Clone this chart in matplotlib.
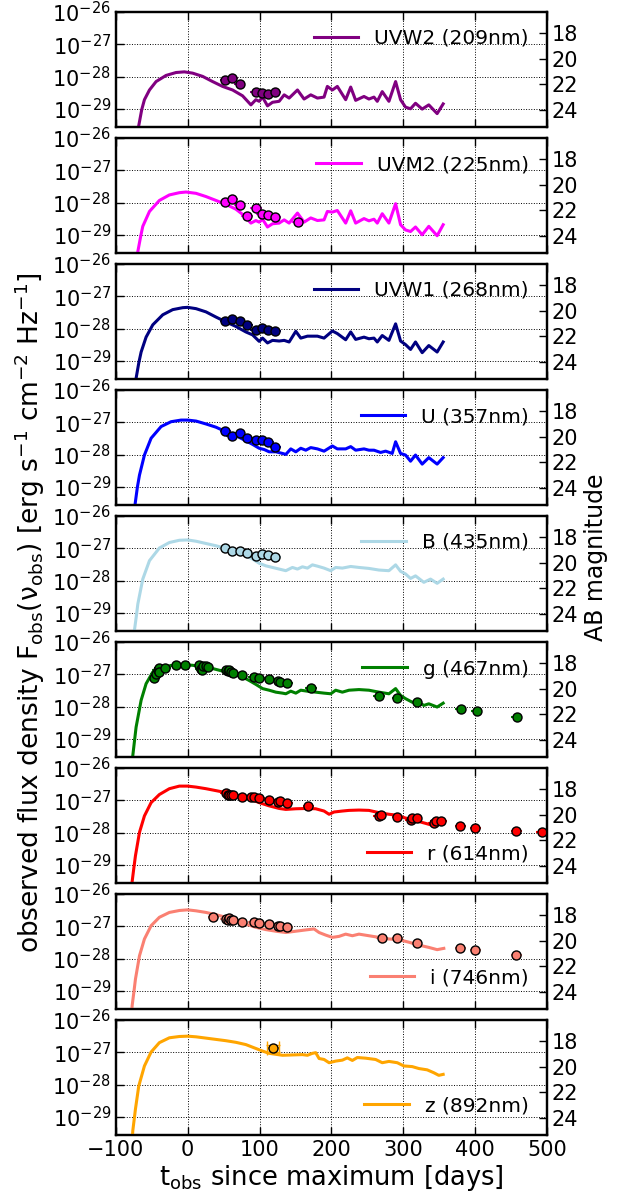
import numpy as np
import matplotlib
matplotlib.use("Agg")
import matplotlib.pyplot as plt
from matplotlib.ticker import FixedLocator, NullLocator

# ---------------- model light curves (log10 flux density, erg/s/cm^2/Hz) ----------------
uvw2_t = [-72, -68.1, -64.0, -60.2, -53.2, -44.0, -30.1, -16.2, -4.6, 6.9, 20.8, 34.7, 48.6, 62.5,
          76.4, 88.0, 94.9, 99.5, 104.2, 111.1, 118.1, 127.3, 134.3, 141.2, 152.8, 162.0, 171.3,
          180.6, 189.8, 194.4, 201.4, 208.3, 219.9, 226.9, 233.8, 245.4, 252.3, 259.3, 263.9,
          270.8, 280.1, 289.4, 296.3, 303.2, 310.2, 317.1, 326.4, 335.6, 347.2, 355.6]
uvw2_logf = [-30.0, -29.51, -29.02, -28.71, -28.41, -28.15, -27.96, -27.87, -27.85, -27.89, -27.99,
             -28.15, -28.30, -28.41, -28.59, -28.87, -28.71, -28.76, -28.63, -28.90, -28.79, -28.76,
             -28.56, -28.66, -28.41, -28.69, -28.56, -28.66, -28.63, -28.30, -28.41, -28.30, -28.71,
             -28.32, -28.73, -28.61, -28.69, -28.63, -28.76, -28.46, -28.76, -28.15, -28.71, -28.94,
             -28.99, -28.82, -29.00, -28.87, -29.14, -28.84]

uvm2_t = [-72, -69.4, -65.5, -62.5, -53.2, -39.4, -25.5, -11.6, -2.3, 11.6, 25.5, 39.4, 53.2, 67.1,
          78.7, 88.0, 94.9, 99.5, 104.2, 111.1, 118.1, 127.3, 134.3, 141.2, 152.8, 162.0, 171.3,
          180.6, 189.8, 194.4, 201.4, 208.3, 219.9, 226.9, 233.8, 245.4, 252.3, 259.3, 263.9,
          270.8, 280.1, 289.4, 296.3, 303.2, 310.2, 317.1, 326.4, 335.6, 347.2, 355.6]
uvm2_logf = [-30.0, -29.51, -29.05, -28.73, -28.27, -27.93, -27.76, -27.69, -27.67, -27.71, -27.81,
             -27.93, -28.05, -28.20, -28.40, -28.63, -28.55, -28.60, -28.51, -28.75, -28.65, -28.63,
             -28.53, -28.63, -28.32, -28.60, -28.47, -28.55, -28.53, -28.27, -28.29, -28.24, -28.63,
             -28.25, -28.63, -28.49, -28.56, -28.51, -28.63, -28.34, -28.63, -28.03, -28.68, -28.84,
             -28.89, -28.75, -28.99, -28.73, -29.02, -28.68]

uvw1_t = [-74, -71.8, -68.0, -64.8, -57.9, -48.6, -34.7, -20.8, -6.9, 0, 11.6, 25.5, 39.4, 53.2,
          67.1, 81.0, 90.3, 99.5, 104.2, 111.1, 118.1, 127.3, 134.3, 141.2, 150.5, 157.4, 166.7,
          180.6, 189.8, 201.4, 208.3, 219.9, 226.9, 233.8, 245.4, 252.3, 259.3, 263.9, 270.8,
          280.1, 289.4, 296.3, 303.2, 310.2, 317.1, 326.4, 335.6, 347.2, 355.6]
uvw1_logf = [-30.0, -29.53, -29.05, -28.72, -28.26, -27.88, -27.57, -27.41, -27.35, -27.34, -27.38,
             -27.48, -27.64, -27.79, -27.93, -28.10, -28.19, -28.39, -28.29, -28.44, -28.36, -28.38,
             -28.36, -28.41, -28.08, -28.29, -28.23, -28.23, -28.29, -28.07, -28.15, -28.34, -28.10,
             -28.33, -28.26, -28.31, -28.29, -28.41, -28.21, -28.36, -27.85, -28.38, -28.49, -28.64,
             -28.41, -28.74, -28.52, -28.72, -28.41]

u_t = [-75, -73.1, -70.0, -67.1, -60.2, -50.9, -37.0, -23.1, -9.3, 0, 11.6, 25.5, 39.4, 53.2,
       67.1, 81.0, 90.3, 99.5, 106.5, 113.4, 122.7, 131.9, 136.6, 143.5, 150.5, 157.4, 164.4,
       171.3, 180.6, 189.8, 201.4, 208.3, 219.9, 226.9, 233.8, 245.4, 252.3, 259.3, 268.5, 275.5,
       284.7, 289.4, 296.3, 303.2, 310.2, 317.1, 326.4, 335.6, 347.2, 355.6]
u_logf = [-30.0, -29.51, -29.0, -28.63, -28.01, -27.49, -27.13, -26.98, -26.93, -26.93, -26.96,
          -27.05, -27.15, -27.29, -27.41, -27.57, -27.68, -27.80, -27.84, -27.91, -27.91, -27.96,
          -27.99, -27.82, -27.91, -27.80, -27.86, -27.78, -27.82, -27.89, -27.73, -27.82, -27.82,
          -27.75, -27.86, -27.82, -27.86, -27.86, -27.93, -27.89, -27.96, -27.60, -27.96, -28.01,
          -28.20, -28.01, -28.29, -28.09, -28.29, -28.09]

b_t = [-76, -74.1, -71.5, -69.4, -62.5, -53.2, -39.4, -25.5, -11.6, 0, 11.6, 25.5, 39.4, 53.2,
       67.1, 81.0, 90.3, 99.5, 108.8, 118.1, 127.3, 136.6, 145.8, 152.8, 159.7, 166.7, 173.6,
       180.6, 189.8, 199.1, 206.0, 215.3, 226.9, 238.4, 252.3, 266.2, 280.1, 289.4, 296.3, 303.2,
       310.2, 317.1, 328.7, 338.0, 347.2, 355.6]
b_logf = [-30.0, -29.53, -29.1, -28.72, -27.95, -27.38, -26.99, -26.82, -26.75, -26.74, -26.78,
          -26.85, -26.92, -27.00, -27.09, -27.23, -27.33, -27.46, -27.54, -27.59, -27.64, -27.69,
          -27.59, -27.64, -27.57, -27.61, -27.51, -27.55, -27.61, -27.69, -27.59, -27.61, -27.56,
          -27.59, -27.62, -27.67, -27.69, -27.51, -27.71, -27.79, -27.93, -27.85, -28.05, -27.95,
          -28.08, -27.95]

g_t = [-78, -76.4, -74.0, -71.8, -64.8, -57.9, -48.6, -34.7, -20.8, -6.9, 6.9, 20.8, 34.7, 48.6,
       62.5, 76.4, 85.6, 94.9, 104.2, 113.4, 122.7, 131.9, 136.6, 143.5, 150.5, 157.4, 166.7,
       178.2, 189.8, 199.1, 206.0, 215.3, 224.5, 238.4, 252.3, 266.2, 280.1, 289.4, 296.3, 303.2,
       312.5, 321.8, 328.7, 335.6, 347.2, 355.6]
g_logf = [-30.0, -29.51, -29.05, -28.63, -27.80, -27.29, -26.93, -26.77, -26.72, -26.70, -26.72,
          -26.77, -26.82, -26.90, -27.00, -27.08, -27.19, -27.31, -27.44, -27.49, -27.55, -27.58,
          -27.60, -27.52, -27.58, -27.49, -27.52, -27.55, -27.58, -27.60, -27.49, -27.55, -27.49,
          -27.47, -27.49, -27.55, -27.60, -27.44, -27.65, -27.75, -27.86, -27.86, -27.96, -27.91,
          -28.01, -27.89]

r_t = [-79, -77.3, -75.0, -72.7, -67.1, -60.2, -50.9, -39.4, -25.5, -11.6, 0, 11.6, 25.5, 39.4,
       53.2, 67.1, 81.0, 90.3, 99.5, 113.4, 127.3, 136.6, 150.5, 166.7, 178.2, 189.8, 196.8,
       203.7, 215.3, 224.5, 238.4, 252.3, 266.2, 280.1, 291.7, 300.9, 312.5, 319.4, 331.0, 340.3,
       347.2, 356.5]
r_logf = [-30.0, -29.51, -29.1, -28.71, -27.99, -27.48, -27.07, -26.82, -26.64, -26.56, -26.56,
          -26.59, -26.64, -26.70, -26.76, -26.84, -26.92, -26.99, -27.07, -27.17, -27.25, -27.28,
          -27.26, -27.25, -27.26, -27.33, -27.43, -27.36, -27.33, -27.31, -27.30, -27.31, -27.38,
          -27.43, -27.46, -27.53, -27.61, -27.64, -27.71, -27.77, -27.69, -27.67]

i_t = [-79, -77.3, -75.0, -72.7, -67.1, -60.2, -50.9, -39.4, -25.5, -11.6, 0, 11.6, 25.5, 39.4,
       53.2, 67.1, 81.0, 94.9, 108.8, 122.7, 136.6, 150.5, 164.4, 175.9, 182.9, 192.1, 201.4,
       210.6, 219.9, 229.2, 238.4, 252.3, 266.2, 280.1, 294.0, 307.9, 321.8, 335.6, 347.2, 356.5]
i_logf = [-30.0, -29.45, -29.05, -28.63, -27.91, -27.39, -26.98, -26.72, -26.57, -26.51, -26.49,
          -26.52, -26.57, -26.64, -26.72, -26.82, -26.93, -27.03, -27.10, -27.15, -27.19, -27.15,
          -27.11, -27.08, -27.19, -27.27, -27.34, -27.31, -27.24, -27.29, -27.24, -27.29, -27.34,
          -27.39, -27.41, -27.49, -27.58, -27.65, -27.72, -27.68]

z_t = [-78, -76.4, -74.5, -72.7, -68.1, -60.2, -50.9, -39.4, -25.5, -11.6, 0, 11.6, 25.5, 39.4,
       53.2, 67.1, 81.0, 94.9, 104.2, 113.4, 122.7, 131.9, 145.8, 159.7, 166.7, 173.6, 178.2,
       182.9, 189.8, 196.8, 206.0, 215.3, 222.2, 229.2, 236.1, 247.7, 261.6, 270.8, 280.1, 291.7,
       300.9, 312.5, 321.8, 333.3, 342.6, 349.5, 355.6]
z_logf = [-30.0, -29.42, -29.08, -28.75, -28.04, -27.42, -26.99, -26.70, -26.55, -26.51, -26.50,
          -26.52, -26.56, -26.60, -26.64, -26.69, -26.76, -26.88, -26.96, -27.03, -27.06, -27.09,
          -27.08, -27.07, -27.09, -27.03, -27.01, -27.19, -27.22, -27.32, -27.27, -27.24, -27.17,
          -27.25, -27.16, -27.18, -27.22, -27.32, -27.28, -27.32, -27.42, -27.44, -27.50, -27.54,
          -27.63, -27.71, -27.68]

# ---------------- photometry (log10 flux density) ----------------
swift_t = [52.3, 61.6, 72.2, 82.4, 94.9, 102.8, 112.0, 122.2]

uvw2_obs_t = [52.3, 61.6, 72.2, 94.9, 102.8, 112.0, 122.2]
uvw2_obs_logf = [-28.10, -28.05, -28.22, -28.47, -28.49, -28.54, -28.48]

uvm2_obs_t = [52.3, 61.6, 72.2, 82.4, 94.9, 102.8, 112.0, 122.2, 153.7]
uvm2_obs_logf = [-27.97, -27.90, -28.08, -28.40, -28.16, -28.35, -28.38, -28.45, -28.59]

uvw1_obs_t = swift_t
uvw1_obs_logf = [-27.77, -27.70, -27.77, -27.90, -28.05, -27.98, -28.05, -28.07]

u_obs_t = swift_t
u_obs_logf = [-27.26, -27.41, -27.32, -27.49, -27.56, -27.56, -27.60, -27.77]

b_obs_t = swift_t
b_obs_logf = [-27.00, -27.07, -27.07, -27.14, -27.25, -27.18, -27.21, -27.28]

g_obs_t = [-46.3, -44.0, -41.7, -39.4, -40.3, -31.0, -16.2, -3.7, 16.2, 18.5, 19.9, 21.8, 25.5,
           27.8, 53.2, 55.6, 57.9, 60.2, 63.4, 75.0, 92.6, 99.5, 113.4, 125.9, 128.7, 138.9,
           171.3, 266.2, 291.7, 318.5, 380.0, 402.0, 458.0]
g_obs_logf = [-27.10, -27.00, -26.88, -26.79, -26.93, -26.79, -26.72, -26.70, -26.72, -26.82,
              -26.88, -26.75, -26.75, -26.77, -26.88, -26.90, -26.86, -26.93, -26.96, -27.03,
              -27.08, -27.10, -27.15, -27.21, -27.23, -27.27, -27.42, -27.68, -27.73, -27.84,
              -28.07, -28.12, -28.33]

r_obs_t = [53.2, 55.6, 57.9, 60.2, 63.4, 75.0, 88.0, 92.6, 99.5, 113.4, 125.9, 128.7, 138.9,
           168.1, 266.2, 268.5, 291.7, 310.2, 312.5, 318.5, 342.6, 345.8, 353.2, 379.6, 400.5,
           457.4, 493.1]
r_obs_logf = [-26.78, -26.82, -26.85, -26.83, -26.85, -26.90, -26.89, -26.90, -26.94, -27.00,
              -27.04, -27.03, -27.09, -27.18, -27.48, -27.45, -27.51, -27.61, -27.55, -27.55,
              -27.71, -27.63, -27.63, -27.79, -27.84, -27.95, -27.99]

i_obs_t = [35.6, 53.2, 55.6, 57.9, 60.2, 63.4, 75.0, 91.7, 99.5, 113.4, 125.9, 128.7, 138.9,
           270.8, 291.7, 318.5, 379.6, 400.5, 457.4]
i_obs_logf = [-26.70, -26.77, -26.79, -26.75, -26.79, -26.80, -26.85, -26.88, -26.90, -26.94,
              -26.98, -26.98, -27.03, -27.36, -27.37, -27.52, -27.67, -27.72, -27.89]

z_obs_t = [119.0]
z_obs_logf = [-26.87]
z_obs_dlogf = [0.11]

band_labels = ["UVW2 (209nm)", "UVM2 (225nm)", "UVW1 (268nm)", "U (357nm)", "B (435nm)",
               "g (467nm)", "r (614nm)", "i (746nm)", "z (892nm)"]
band_colors = ["purple", "magenta", "navy", "blue", "lightblue", "green", "red", "salmon", "orange"]
legend_y = [0.772, 0.765, 0.772, 0.765, 0.772, 0.765, 0.255, 0.27, 0.255]

model_t = [uvw2_t, uvm2_t, uvw1_t, u_t, b_t, g_t, r_t, i_t, z_t]
model_logf = [uvw2_logf, uvm2_logf, uvw1_logf, u_logf, b_logf, g_logf, r_logf, i_logf, z_logf]
obs_t = [uvw2_obs_t, uvm2_obs_t, uvw1_obs_t, u_obs_t, b_obs_t, g_obs_t, r_obs_t, i_obs_t, z_obs_t]
obs_logf = [uvw2_obs_logf, uvm2_obs_logf, uvw1_obs_logf, u_obs_logf, b_obs_logf, g_obs_logf,
            r_obs_logf, i_obs_logf, z_obs_logf]

YMIN, YMAX = 2.8e-30, 1e-26
XERR = 8.0


def ab_mag(f):
    return -2.5 * np.log10(f) - 48.6


plt.rcParams.update({
    "font.family": "DejaVu Sans",
    "xtick.direction": "in",
    "ytick.direction": "in",
    "xtick.major.size": 6,
    "ytick.major.size": 6,
    "xtick.major.width": 1,
    "ytick.major.width": 1,
    "axes.linewidth": 1.6,
})

fig, axes = plt.subplots(9, 1, figsize=(6.33, 11.98), dpi=100, sharex=True)
fig.subplots_adjust(left=0.183, right=0.864, top=0.990, bottom=0.0526, hspace=0.0957)

for k, ax in enumerate(axes):
    color = band_colors[k]
    ax.plot(model_t[k], 10 ** np.asarray(model_logf[k]), color=color, lw=2.2,
            label=band_labels[k], zorder=3)
    yo = 10 ** np.asarray(obs_logf[k])
    if k == 8:
        dl = np.asarray(z_obs_dlogf)
        yerr = [yo * (1 - 10 ** -dl), yo * (10 ** dl - 1)]
        ax.errorbar(obs_t[k], yo, xerr=XERR, yerr=yerr, fmt="o", color=color,
                    mfc=color, mec="k", mew=1, ms=6.5, ecolor=color, elinewidth=1.5,
                    capsize=5, capthick=2.5, zorder=4)
    else:
        ax.errorbar(obs_t[k], yo, xerr=XERR, fmt="o", color=color, mfc=color, mec="k",
                    mew=1, ms=6.5, ecolor=color, elinewidth=1.5, zorder=4)
    ax.set_yscale("log")
    ax.set_ylim(YMIN, YMAX)
    ax.set_xlim(-100, 500)
    ax.yaxis.set_major_locator(FixedLocator([1e-29, 1e-28, 1e-27, 1e-26]))
    ax.yaxis.set_minor_locator(NullLocator())
    ax.xaxis.set_major_locator(FixedLocator(np.arange(-100, 501, 100)))
    ax.grid(True, which="major", color="k", linestyle=":", linewidth=0.7)
    ax.tick_params(axis="x", top=True)
    ax.tick_params(axis="y", labelsize=15)
    ax.legend(loc="center right", bbox_to_anchor=(1.0, legend_y[k]), frameon=False,
              fontsize=14.5, handlelength=2.2, handletextpad=0.8, borderaxespad=0.5)

    tw = ax.twinx()
    tw.set_ylim(ab_mag(YMIN), ab_mag(YMAX))
    tw.yaxis.set_major_locator(FixedLocator([18, 20, 22, 24]))
    tw.yaxis.set_minor_locator(NullLocator())
    tw.tick_params(axis="y", direction="in", labelsize=15, length=6)

for ax in axes[:-1]:
    ax.tick_params(axis="x", labelbottom=False)

axes[-1].set_xlabel(r"$\mathrm{t_{obs}}$ since maximum [days]", fontsize=18.5, labelpad=2)
axes[-1].tick_params(axis="x", labelsize=15)

fig.text(0.047, 0.489,
         r"observed flux density $\mathrm{F_{obs}(\nu_{obs})}$ [erg s$^{-1}$ cm$^{-2}$ Hz$^{-1}$]",
         rotation=90, ha="center", va="center", fontsize=19)
fig.text(0.942, 0.535, "AB magnitude", rotation=90, ha="center", va="center", fontsize=17)

fig.savefig("out.png", dpi=100)
